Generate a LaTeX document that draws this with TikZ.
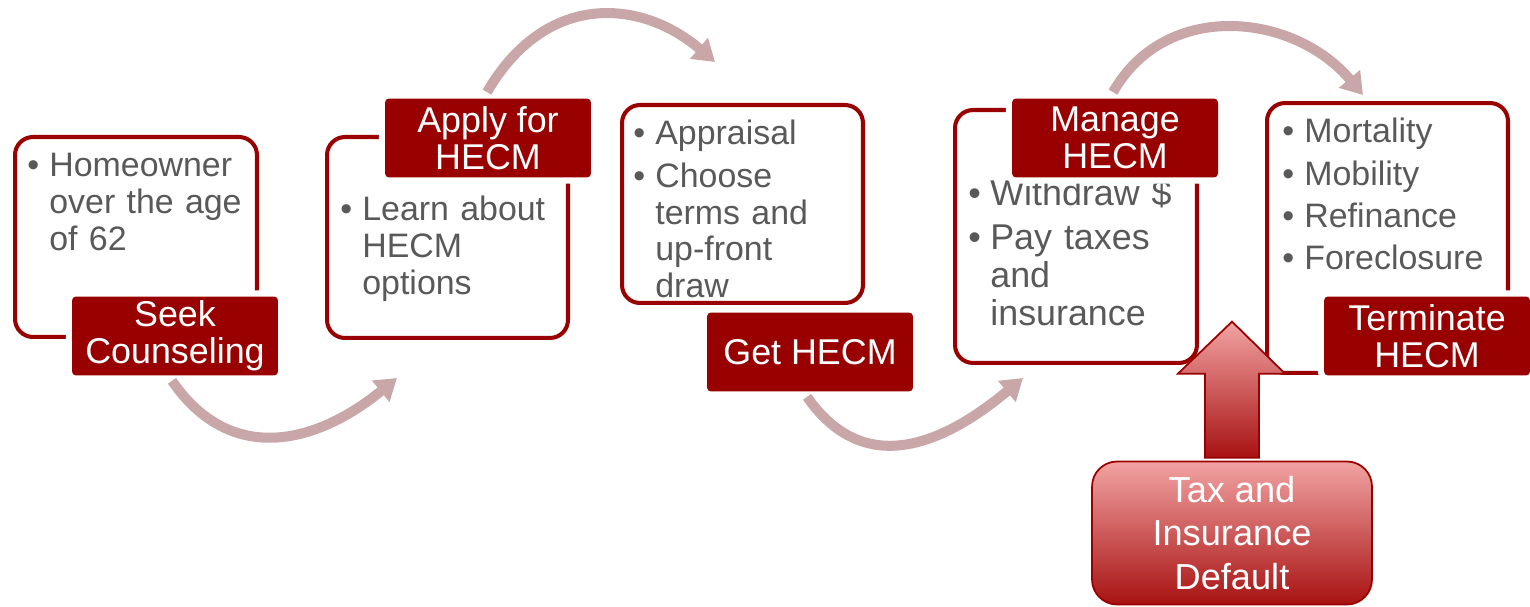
\documentclass[tikz,border=0pt]{standalone}
\usepackage{fontspec}
\setmainfont{Liberation Sans}
\usepackage{xcolor}
\usetikzlibrary{arrows.meta}

\definecolor{hecmred}{HTML}{990000}
\definecolor{hecmgrey}{HTML}{595959}
\definecolor{flowarc}{HTML}{C9A6A8}
\definecolor{defaultlight}{HTML}{F2A3A3}
\definecolor{defaultdark}{HTML}{A81212}

% bullet with hanging indent, and the gap between two bullets
\newcommand{\bitem}{\hangindent=0.44cm\hangafter=1\noindent\makebox[0.44cm][l]{\textbullet}}
\newcommand{\bnext}{\par\vspace{3pt}\bitem}

\begin{document}
\begin{tikzpicture}[
  x=0.02cm, y=-0.02cm,
  box/.style={draw=hecmred, line width=2.3pt, rounded corners=0.36cm},
  tag/.style={fill=hecmred, text=white, rounded corners=0.08cm,
              minimum width=4.12cm, minimum height=1.58cm, inner sep=0pt,
              font=\fontsize{20.4}{21}\selectfont, align=center,
              preaction={draw=white, line width=7pt}},
  bul/.style={anchor=base west, inner sep=0pt, text=hecmgrey, align=left,
              text width=4.4cm, font=\fontsize{19.3}{21}\selectfont},
  arr/.style={-{Triangle[length=12pt,width=15pt]}, line width=5.7pt, flowarc}
]
\useasboundingbox (0,0) rectangle (1530,607);

% Outlined step boxes
\node[box, minimum width=4.84cm, minimum height=4.0cm]  (b1) at (136,237) {};
\node[box, minimum width=4.82cm, minimum height=4.02cm] (b2) at (447.5,237.5) {};
\node[box, minimum width=4.82cm, minimum height=3.96cm] (b3) at (742.5,204) {};
\node[box, minimum width=4.84cm, minimum height=5.06cm] (b4) at (1076,236.5) {};
\node[box, minimum width=4.82cm, minimum height=5.40cm] (b5) at (1387.5,238) {};

% Bullet lists
\node[bul] (t1) at (27,177)   {\bitem Homeowner\newline over the age\newline of 62\par};
\node[bul] (t2) at (340,221)  {\bitem Learn about\newline HECM\newline options\par};
\node[bul] (t3) at (633,145)  {\bitem Appraisal\bnext Choose\newline terms and\newline up-front\newline draw\par};
\node[bul, font=\fontsize{20.4}{21.6}\selectfont] (t4) at (968,206)
      {\bitem Withdraw \$\bnext Pay taxes\newline and\newline insurance\par};
\node[bul] (t5) at (1282,143) {\bitem Mortality\bnext Mobility\bnext Refinance\bnext Foreclosure\par};

% Step titles
\node[tag] (seek)   at (175,336)  {Seek\\Counseling};
\node[tag] (apply)  at (488,138)  {Apply for\\HECM};
\node[tag] (get)    at (810,352)  {Get HECM};
\node[tag] (manage) at (1115,138) {Manage\\HECM};
\node[tag] (term)   at (1427,336) {Terminate\\HECM};

% Flow arcs between steps
\coordinate (e1) at (397,378);
\coordinate (e2) at (715,62);
\coordinate (e3) at (1023,378);
\coordinate (e4) at (1363,95);
\draw[arr] ([shift={(-3,5)}]seek.south) .. controls (230,465) and (315,445) .. (e1);
\draw[arr] ([shift={(-1,-6)}]apply.north) .. controls (545,-8) and (640,-2) .. (e2);
\draw[arr] ([shift={(-3,5)}]get.south) .. controls (865,480) and (945,443) .. (e3);
\draw[arr] ([shift={(-2,-6)}]manage.north) .. controls (1166,-1) and (1294,13) .. (e4);

% Default box and its block arrow
\node[draw=hecmred, line width=1pt, rounded corners=0.5cm,
      top color=defaultlight, bottom color=defaultdark,
      minimum width=5.6cm, minimum height=2.86cm, text=white, align=center,
      font=\fontsize{20.6}{25}\selectfont] (tax) at (1232,533)
      {Tax and\\Insurance\\Default};
\draw[hecmred, line width=1pt, top color=defaultlight, bottom color=defaultdark]
  ([shift={(-27,-3)}]tax.north) -- ++(0,-84) -- ++(-27,0) -- ++(54,-52)
  -- ++(53,52) -- ++(-26,0) -- ++(0,84) -- cycle;

\end{tikzpicture}
\end{document}
